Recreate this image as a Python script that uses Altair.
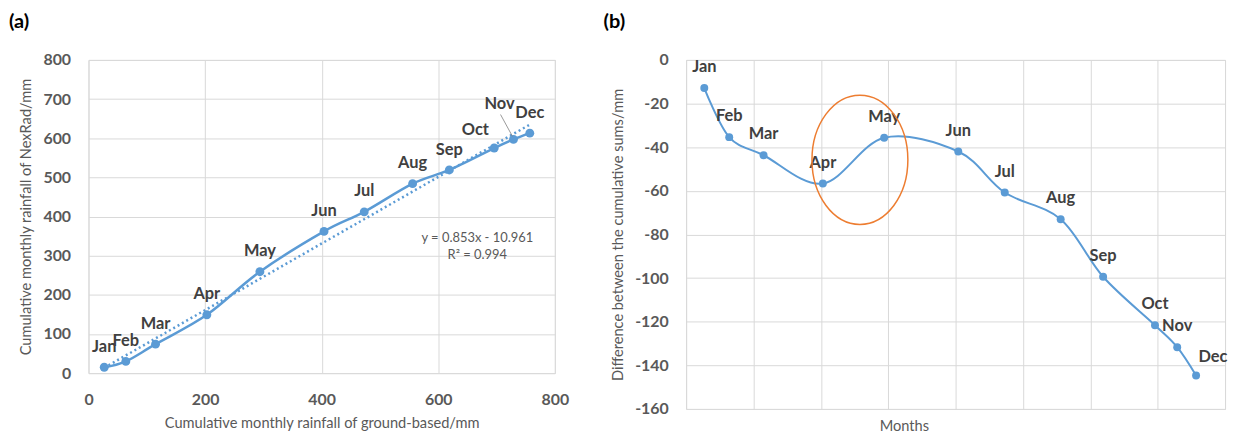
import altair as alt
import pandas as pd

# Monthly cumulative rainfall: ground gauges vs. NexRad radar
months = ["Jan", "Feb", "Mar", "Apr", "May", "Jun", "Jul", "Aug", "Sep", "Oct", "Nov", "Dec"]
ground_cum = [27, 64, 115, 203, 294, 404, 473, 556, 619, 696, 729, 757]
nexrad_cum = [15, 30, 74, 149, 259, 362, 412, 484, 519, 575, 597, 613]
# NexRad minus ground cumulative sums
cum_diff = [-12.9, -35.4, -43.7, -56.7, -35.7, -42.0, -60.8, -73.0, -99.4, -121.6, -131.7, -144.7]

# Trendline annotation text and where it sits (data units of panel a)
eq_lines = ["y = 0.853x - 10.961", "R² = 0.994"]
eq_x = [667, 667]
eq_y = [346, 301]

# Highlight ellipse around the Apr-May rebound (data units of panel b)
ring_x = [258]
ring_y = [-45.8]

BLUE = "#5B9BD5"
ORANGE = "#ED7D31"
GRID = "#D9D9D9"
AXIS_TXT = "#595959"
LABEL_TXT = "#404040"
FONT = "Lato"

df = pd.DataFrame({"month": months, "ground": ground_cum, "nexrad": nexrad_cum, "diff": cum_diff})
eq_df = pd.DataFrame({"ground": eq_x, "nexrad": eq_y, "text": eq_lines})
ring_df = pd.DataFrame({"ground": ring_x, "diff": ring_y})

axis_common = dict(
    grid=True, gridColor=GRID, gridWidth=1, domain=False, ticks=False,
    labelOverlap=False, labelFlush=False,
    labelFont=FONT, labelFontSize=16, labelFontWeight="bold", labelColor=AXIS_TXT,
    labelExpr="toString(datum.value)",
    titleFont=FONT, titleFontSize=14.7, titleFontWeight="normal", titleColor=AXIS_TXT,
)

scale_a = alt.Scale(domain=[0, 800], nice=False)
scale_b_y = alt.Scale(domain=[-160, 0], nice=False)

# ---------- panel (a): scatter of cumulative sums with linear fit ----------
axis_xa = alt.Axis(values=[0, 200, 400, 600, 800], labelPadding=19, titlePadding=8,
                   title="Cumulative monthly rainfall of ground-based/mm", **axis_common)
axis_ya = alt.Axis(values=list(range(0, 801, 100)), labelPadding=18, titlePadding=9,
                   title="Cumulative monthly rainfall of NexRad/mm", **axis_common)
xa = alt.X("ground:Q", scale=scale_a, axis=axis_xa)
ya = alt.Y("nexrad:Q", scale=scale_a, axis=axis_ya)

base_a = alt.Chart(df)
trend_a = base_a.transform_regression("ground", "nexrad").mark_line(
    color=BLUE, strokeWidth=2.5, strokeDash=[2, 3]).encode(x=xa, y=ya)
line_a = base_a.mark_line(color=BLUE, strokeWidth=2.5, interpolate="cardinal").encode(x=xa, y=ya)
pts_a = base_a.mark_circle(color=BLUE, size=80, opacity=1).encode(x=xa, y=ya)
lab_style = dict(font=FONT, fontSize=16.5, fontWeight="bold", color=LABEL_TXT)
lab_a = base_a.transform_filter("datum.month != 'Oct' && datum.month != 'Nov'").mark_text(
    dy=-20.5, **lab_style).encode(x=xa, y=ya, text="month:N")
lab_oct = base_a.transform_filter("datum.month == 'Oct'").mark_text(
    dx=-19, dy=-18, **lab_style).encode(x=xa, y=ya, text="month:N")
lab_nov = base_a.transform_filter("datum.month == 'Nov'").mark_text(
    dx=-14, dy=-35.5, **lab_style).encode(x=xa, y=ya, text="month:N")
leader_nov = base_a.transform_filter("datum.month == 'Nov'").mark_rule(
    color="#7F7F7F", strokeWidth=0.8, xOffset=-13, yOffset=-25, x2Offset=-1, y2Offset=-3
).encode(x=xa, y=ya, x2=alt.X2("ground"), y2=alt.Y2("nexrad"))
eq_a = alt.Chart(eq_df).mark_text(font=FONT, fontSize=13, color=AXIS_TXT).encode(
    x=xa, y=ya, text="text:N")

panel_a = alt.layer(trend_a, line_a, pts_a, lab_a, lab_oct, lab_nov, leader_nov, eq_a).properties(
    width=469, height=315,
    title=alt.TitleParams("(a)", anchor="start", frame="group", dx=-80, offset=20,
                          font=FONT, fontSize=20, fontWeight="bold", color="black"))

# ---------- panel (b): difference of the cumulative sums ----------
axis_xb = alt.Axis(values=list(range(0, 801, 100)), labels=False, titlePadding=10,
                   title="Months", titleX=219, titleAlign="center", **axis_common)
axis_yb = alt.Axis(values=list(range(-160, 1, 20)), labelPadding=18, titlePadding=9,
                   title="Difference between the cumulative sums/mm", **axis_common)
xb = alt.X("ground:Q", scale=scale_a, axis=axis_xb)
yb = alt.Y("diff:Q", scale=scale_b_y, axis=axis_yb)

base_b = alt.Chart(df)
line_b = base_b.mark_line(color=BLUE, strokeWidth=2, interpolate="cardinal").encode(x=xb, y=yb)
pts_b = base_b.mark_circle(color=BLUE, size=64, opacity=1).encode(x=xb, y=yb)
lab_b = base_b.transform_filter("datum.month != 'Dec'").mark_text(
    dy=-21, **lab_style).encode(x=xb, y=yb, text="month:N")
lab_dec = base_b.transform_filter("datum.month == 'Dec'").mark_text(
    dx=17, dy=-19, **lab_style).encode(x=xb, y=yb, text="month:N")
ring = alt.Chart(ring_df).mark_point(
    shape="M0,-1 A0.742,1 0 1,1 0,1 A0.742,1 0 1,1 0,-1 Z",
    size=16900, filled=False, stroke=ORANGE, strokeWidth=1.5, opacity=1
).encode(x=xb, y=yb)

panel_b = alt.layer(line_b, pts_b, lab_b, lab_dec, ring).properties(
    width=542, height=351,
    title=alt.TitleParams("(b)", anchor="start", frame="group", dx=-83, offset=20,
                          font=FONT, fontSize=20, fontWeight="bold", color="black"))

chart = alt.hconcat(panel_a, panel_b, spacing=33).properties(
    padding={"left": 8, "top": 10, "right": 5, "bottom": 5}
).configure_view(stroke=GRID, strokeWidth=1).configure(background="white")

chart.save("out.html", embed_options={"renderer": "svg", "actions": False})
